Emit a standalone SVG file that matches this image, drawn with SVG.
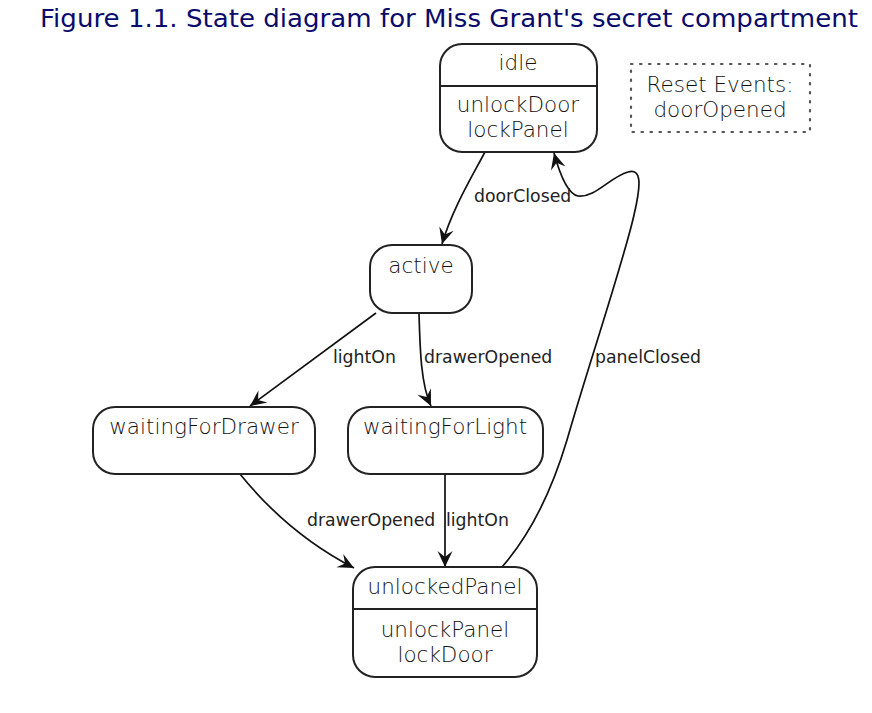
<svg xmlns="http://www.w3.org/2000/svg" width="872" height="713" viewBox="0 0 872 713">
<style>
.title{font-family:"DejaVu Sans","Liberation Sans",sans-serif;font-size:25px;fill:#0b0b6b}
.box{fill:#fff;stroke:#222;stroke-width:2}
.div{stroke:#222;stroke-width:2}
.nl{font-family:"DejaVu Sans","Liberation Sans",sans-serif;font-weight:200;font-size:21.5px;fill:#111;text-anchor:middle}
.el{font-family:"DejaVu Sans","Liberation Sans",sans-serif;font-size:17.3px;fill:#222}
.edge{fill:none;stroke:#111;stroke-width:1.7;marker-end:url(#arr)}
.note{fill:none;stroke:#555;stroke-width:2.2;stroke-dasharray:1.5 7.5;stroke-linecap:round}
</style>
<defs>
<marker id="arr" viewBox="-17 -8 19 16" refX="0" refY="0" markerWidth="19" markerHeight="16" markerUnits="userSpaceOnUse" orient="auto">
<path d="M0,0 L-16,-7.5 L-10,0 L-16,7.5 Z" fill="#111"/>
</marker>
</defs>
<text class="title" x="40" y="27" textLength="818" lengthAdjust="spacingAndGlyphs">Figure 1.1. State diagram for Miss Grant's secret compartment</text>

<g id="connectors">
<path class="edge" d="M485,152 C470,180 452,210 442,244"/>
<path class="edge" d="M376,313 L250,406"/>
<path class="edge" d="M419,313 C420,350 421,385 431,406"/>
<path class="edge" d="M240,474 C265,505 300,540 354,568"/>
<path class="edge" d="M445,474 L445,567"/>
<path class="edge" d="M502,567 C530,535 552,490 567,440 C587,370 624,260 634,215 C641,185 642,168 628,172 C610,177 595,198 578,196 C568,194 560,175 554,153"/>
<text class="el" x="474" y="202">doorClosed</text>
<text class="el" x="333" y="363">lightOn</text>
<text class="el" x="424" y="363">drawerOpened</text>
<text class="el" x="595" y="363">panelClosed</text>
<text class="el" x="307" y="526">drawerOpened</text>
<text class="el" x="446" y="526">lightOn</text>
</g>

<g id="idle">
<rect class="box" x="440" y="44" width="157" height="108" rx="22"/>
<line class="div" x1="440" y1="86" x2="597" y2="86"/>
<text class="nl" x="518" y="70">idle</text>
<text class="nl" x="518" y="112">unlockDoor</text>
<text class="nl" x="518" y="137">lockPanel</text>
</g>

<g id="resetEvents">
<rect class="note" x="631" y="64" width="179" height="68"/>
<text class="nl" x="720" y="92">Reset Events:</text>
<text class="nl" x="720" y="117">doorOpened</text>
</g>

<g id="active">
<rect class="box" x="370" y="245" width="102" height="68" rx="22"/>
<text class="nl" x="421" y="273">active</text>
</g>

<g id="waitingForDrawer">
<rect class="box" x="93" y="407" width="222" height="67" rx="22"/>
<text class="nl" x="204" y="434">waitingForDrawer</text>
</g>

<g id="waitingForLight">
<rect class="box" x="348" y="407" width="195" height="67" rx="22"/>
<text class="nl" x="445" y="434">waitingForLight</text>
</g>

<g id="unlockedPanel">
<rect class="box" x="353" y="567" width="184" height="110" rx="22"/>
<line class="div" x1="353" y1="609" x2="537" y2="609"/>
<text class="nl" x="445" y="594">unlockedPanel</text>
<text class="nl" x="445" y="637">unlockPanel</text>
<text class="nl" x="445" y="662">lockDoor</text>
</g>
</svg>
